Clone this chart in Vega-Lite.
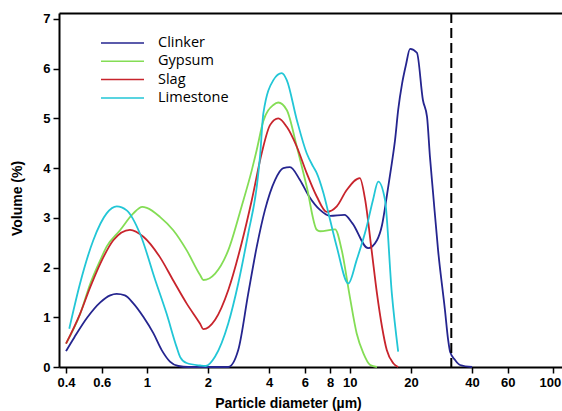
{
  "$schema": "https://vega.github.io/schema/vega-lite/v6.json",
  "width": 503,
  "height": 354,
  "autosize": "none",
  "padding": {"left": 59, "top": 13, "right": 0, "bottom": 44},
  "background": "white",
  "config": {
    "view": {"stroke": null},
    "font": "Liberation Sans",
    "axis": {"grid": false, "domainColor": "black", "domainWidth": 2, "tickColor": "black", "tickWidth": 1.5, "tickSize": 6, "labelFont": "Liberation Sans", "labelFontWeight": "bold", "labelFontSize": 13, "labelColor": "black", "labelPadding": 3, "titleFont": "Liberation Sans", "titleFontWeight": "bold", "titleFontSize": 14, "titleColor": "black"}
  },
  "datasets": {
    "psd": [
      {"s": "Clinker", "d": 0.4, "v": 0.32}, {"s": "Clinker", "d": 0.44, "v": 0.6}, {"s": "Clinker", "d": 0.51, "v": 1.0}, {"s": "Clinker", "d": 0.59, "v": 1.3}, {"s": "Clinker", "d": 0.66, "v": 1.44}, {"s": "Clinker", "d": 0.71, "v": 1.47}, {"s": "Clinker", "d": 0.78, "v": 1.44}, {"s": "Clinker", "d": 0.858, "v": 1.28}, {"s": "Clinker", "d": 0.961, "v": 1.01}, {"s": "Clinker", "d": 1.077, "v": 0.68}, {"s": "Clinker", "d": 1.184, "v": 0.34}, {"s": "Clinker", "d": 1.3, "v": 0.11}, {"s": "Clinker", "d": 1.43, "v": 0.02}, {"s": "Clinker", "d": 1.6, "v": 0.0}, {"s": "Clinker", "d": 2.0, "v": 0.0}, {"s": "Clinker", "d": 2.52, "v": 0.0}, {"s": "Clinker", "d": 2.82, "v": 0.34}, {"s": "Clinker", "d": 3.16, "v": 1.48}, {"s": "Clinker", "d": 3.48, "v": 2.42}, {"s": "Clinker", "d": 3.82, "v": 3.16}, {"s": "Clinker", "d": 4.28, "v": 3.76}, {"s": "Clinker", "d": 4.7, "v": 4.0}, {"s": "Clinker", "d": 5.07, "v": 4.02}, {"s": "Clinker", "d": 5.68, "v": 3.76}, {"s": "Clinker", "d": 6.3, "v": 3.43}, {"s": "Clinker", "d": 7.13, "v": 3.16}, {"s": "Clinker", "d": 7.99, "v": 3.04}, {"s": "Clinker", "d": 9.4, "v": 3.06}, {"s": "Clinker", "d": 10.3, "v": 2.89}, {"s": "Clinker", "d": 12.3, "v": 2.39}, {"s": "Clinker", "d": 13.6, "v": 2.55}, {"s": "Clinker", "d": 14.4, "v": 2.85}, {"s": "Clinker", "d": 15.2, "v": 3.43}, {"s": "Clinker", "d": 16.1, "v": 4.1}, {"s": "Clinker", "d": 16.7, "v": 4.57}, {"s": "Clinker", "d": 17.3, "v": 5.17}, {"s": "Clinker", "d": 18.1, "v": 5.71}, {"s": "Clinker", "d": 18.9, "v": 6.08}, {"s": "Clinker", "d": 19.8, "v": 6.4}, {"s": "Clinker", "d": 21.4, "v": 6.32}, {"s": "Clinker", "d": 22.9, "v": 5.37}, {"s": "Clinker", "d": 24.0, "v": 5.03}, {"s": "Clinker", "d": 24.8, "v": 4.23}, {"s": "Clinker", "d": 25.7, "v": 3.5}, {"s": "Clinker", "d": 27.2, "v": 2.35}, {"s": "Clinker", "d": 29.4, "v": 1.15}, {"s": "Clinker", "d": 30.5, "v": 0.54}, {"s": "Clinker", "d": 31.2, "v": 0.3}, {"s": "Clinker", "d": 33.0, "v": 0.14}, {"s": "Clinker", "d": 34.9, "v": 0.04}, {"s": "Clinker", "d": 40.0, "v": 0.0},
      {"s": "Gypsum", "d": 0.4, "v": 0.47}, {"s": "Gypsum", "d": 0.47, "v": 1.07}, {"s": "Gypsum", "d": 0.527, "v": 1.68}, {"s": "Gypsum", "d": 0.59, "v": 2.15}, {"s": "Gypsum", "d": 0.634, "v": 2.42}, {"s": "Gypsum", "d": 0.738, "v": 2.75}, {"s": "Gypsum", "d": 0.858, "v": 3.09}, {"s": "Gypsum", "d": 0.95, "v": 3.22}, {"s": "Gypsum", "d": 1.0, "v": 3.2}, {"s": "Gypsum", "d": 1.16, "v": 3.02}, {"s": "Gypsum", "d": 1.35, "v": 2.75}, {"s": "Gypsum", "d": 1.57, "v": 2.35}, {"s": "Gypsum", "d": 1.83, "v": 1.85}, {"s": "Gypsum", "d": 1.9, "v": 1.75}, {"s": "Gypsum", "d": 2.17, "v": 1.88}, {"s": "Gypsum", "d": 2.52, "v": 2.35}, {"s": "Gypsum", "d": 2.93, "v": 3.23}, {"s": "Gypsum", "d": 3.29, "v": 3.96}, {"s": "Gypsum", "d": 3.48, "v": 4.37}, {"s": "Gypsum", "d": 3.75, "v": 4.95}, {"s": "Gypsum", "d": 4.2, "v": 5.27}, {"s": "Gypsum", "d": 4.44, "v": 5.32}, {"s": "Gypsum", "d": 4.89, "v": 5.17}, {"s": "Gypsum", "d": 5.48, "v": 4.43}, {"s": "Gypsum", "d": 6.13, "v": 3.63}, {"s": "Gypsum", "d": 6.87, "v": 2.76}, {"s": "Gypsum", "d": 7.13, "v": 2.73}, {"s": "Gypsum", "d": 8.46, "v": 2.77}, {"s": "Gypsum", "d": 9.12, "v": 2.35}, {"s": "Gypsum", "d": 10.0, "v": 1.41}, {"s": "Gypsum", "d": 10.8, "v": 0.68}, {"s": "Gypsum", "d": 11.65, "v": 0.28}, {"s": "Gypsum", "d": 12.6, "v": 0.04}, {"s": "Gypsum", "d": 13.6, "v": 0.0},
      {"s": "Slag", "d": 0.4, "v": 0.47}, {"s": "Slag", "d": 0.469, "v": 1.07}, {"s": "Slag", "d": 0.527, "v": 1.61}, {"s": "Slag", "d": 0.59, "v": 2.08}, {"s": "Slag", "d": 0.684, "v": 2.55}, {"s": "Slag", "d": 0.826, "v": 2.76}, {"s": "Slag", "d": 0.962, "v": 2.62}, {"s": "Slag", "d": 1.16, "v": 2.21}, {"s": "Slag", "d": 1.35, "v": 1.74}, {"s": "Slag", "d": 1.57, "v": 1.28}, {"s": "Slag", "d": 1.83, "v": 0.87}, {"s": "Slag", "d": 1.9, "v": 0.76}, {"s": "Slag", "d": 2.17, "v": 0.95}, {"s": "Slag", "d": 2.52, "v": 1.55}, {"s": "Slag", "d": 2.93, "v": 2.49}, {"s": "Slag", "d": 3.29, "v": 3.36}, {"s": "Slag", "d": 3.68, "v": 4.3}, {"s": "Slag", "d": 4.05, "v": 4.87}, {"s": "Slag", "d": 4.44, "v": 5.0}, {"s": "Slag", "d": 4.89, "v": 4.83}, {"s": "Slag", "d": 5.48, "v": 4.43}, {"s": "Slag", "d": 6.13, "v": 3.9}, {"s": "Slag", "d": 6.87, "v": 3.43}, {"s": "Slag", "d": 7.69, "v": 3.12}, {"s": "Slag", "d": 8.62, "v": 3.23}, {"s": "Slag", "d": 9.65, "v": 3.56}, {"s": "Slag", "d": 11.2, "v": 3.8}, {"s": "Slag", "d": 11.9, "v": 3.36}, {"s": "Slag", "d": 12.8, "v": 2.35}, {"s": "Slag", "d": 13.6, "v": 1.48}, {"s": "Slag", "d": 14.4, "v": 0.81}, {"s": "Slag", "d": 15.2, "v": 0.34}, {"s": "Slag", "d": 16.4, "v": 0.07}, {"s": "Slag", "d": 17.3, "v": 0.0},
      {"s": "Limestone", "d": 0.415, "v": 0.77}, {"s": "Limestone", "d": 0.469, "v": 1.68}, {"s": "Limestone", "d": 0.545, "v": 2.55}, {"s": "Limestone", "d": 0.634, "v": 3.09}, {"s": "Limestone", "d": 0.711, "v": 3.23}, {"s": "Limestone", "d": 0.796, "v": 3.15}, {"s": "Limestone", "d": 0.926, "v": 2.68}, {"s": "Limestone", "d": 1.1, "v": 1.75}, {"s": "Limestone", "d": 1.25, "v": 1.08}, {"s": "Limestone", "d": 1.4, "v": 0.41}, {"s": "Limestone", "d": 1.46, "v": 0.2}, {"s": "Limestone", "d": 1.57, "v": 0.08}, {"s": "Limestone", "d": 1.83, "v": 0.03}, {"s": "Limestone", "d": 1.95, "v": 0.02}, {"s": "Limestone", "d": 2.17, "v": 0.21}, {"s": "Limestone", "d": 2.52, "v": 0.88}, {"s": "Limestone", "d": 2.82, "v": 1.68}, {"s": "Limestone", "d": 3.16, "v": 2.69}, {"s": "Limestone", "d": 3.48, "v": 3.63}, {"s": "Limestone", "d": 3.61, "v": 4.23}, {"s": "Limestone", "d": 3.75, "v": 5.1}, {"s": "Limestone", "d": 4.2, "v": 5.77}, {"s": "Limestone", "d": 4.62, "v": 5.91}, {"s": "Limestone", "d": 4.89, "v": 5.77}, {"s": "Limestone", "d": 5.48, "v": 4.97}, {"s": "Limestone", "d": 6.13, "v": 4.3}, {"s": "Limestone", "d": 6.6, "v": 4.03}, {"s": "Limestone", "d": 6.87, "v": 3.9}, {"s": "Limestone", "d": 7.41, "v": 3.5}, {"s": "Limestone", "d": 7.99, "v": 2.96}, {"s": "Limestone", "d": 8.62, "v": 2.42}, {"s": "Limestone", "d": 9.83, "v": 1.68}, {"s": "Limestone", "d": 10.8, "v": 2.15}, {"s": "Limestone", "d": 12.1, "v": 2.82}, {"s": "Limestone", "d": 13.0, "v": 3.36}, {"s": "Limestone", "d": 13.8, "v": 3.73}, {"s": "Limestone", "d": 14.9, "v": 3.36}, {"s": "Limestone", "d": 16.1, "v": 1.48}, {"s": "Limestone", "d": 17.3, "v": 0.31}
    ],
    "cut": [{"d": 31.6}]
  },
  "layer": [
    {
      "data": {"name": "psd"},
      "mark": {"type": "line", "strokeWidth": 1.8, "interpolate": "monotone"},
      "encoding": {
        "x": {"field": "d", "type": "quantitative", "scale": {"type": "log", "domain": [0.3694, 110.9], "nice": false},
          "axis": {"values": [0.4, 0.6, 1, 2, 4, 6, 8, 10, 20, 40, 60, 100], "format": "~g", "title": "Particle diameter (µm)", "titleX": 229, "titleY": 36, "titleBaseline": "middle", "titleAnchor": null,
            "labelOffset": {"condition": {"test": "datum.value == 100", "value": -3}, "value": 0}}},
        "y": {"field": "v", "type": "quantitative", "scale": {"domain": [0, 7.12], "nice": false},
          "axis": {"values": [0, 1, 2, 3, 4, 5, 6, 7], "format": "d", "title": "Volume (%)", "titleX": -42, "titleY": 185, "titleBaseline": "middle", "titleAnchor": null}},
        "color": {"field": "s", "type": "nominal",
          "scale": {"domain": ["Clinker", "Gypsum", "Slag", "Limestone"], "range": ["#25258f", "#84dd55", "#c8242c", "#22c6d6"]},
          "legend": {"orient": "none", "legendX": 52.5, "legendY": 19, "title": null, "symbolType": "M-2.15,0H2.15", "symbolSize": 400, "symbolStrokeWidth": 1.5, "symbolFillColor": "transparent", "labelFont": "Open Sans", "labelFontSize": 14.5, "labelColor": "black", "labelOffset": 24.5, "padding": 0, "rowPadding": 0.3}},
        "detail": {"field": "s"}
      }
    },
    {
      "data": {"name": "cut"},
      "mark": {"type": "rule", "color": "black", "strokeWidth": 2, "strokeDash": [10, 5]},
      "encoding": {
        "x": {"field": "d", "type": "quantitative", "axis": {"orient": "top", "labels": false, "ticks": false, "title": null, "domain": true}}
      }
    }
  ],
  "resolve": {"axis": {"x": "independent"}}
}
